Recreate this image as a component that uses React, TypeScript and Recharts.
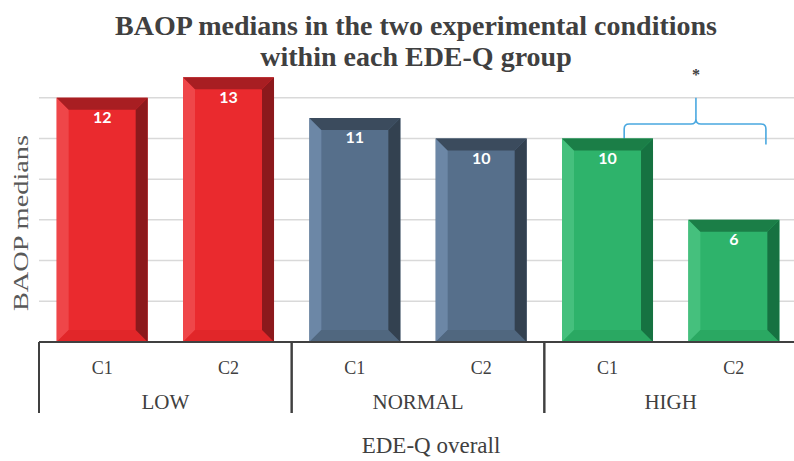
import React from 'react';
import {
  BarChart,
  Bar,
  XAxis,
  YAxis,
  CartesianGrid,
  LabelList,
  ReferenceArea,
} from 'recharts';

const groups = ['LOW', 'NORMAL', 'HIGH'];
const conditions = ['C1', 'C2'];
const medians = [12, 13, 11, 10, 10, 6];
const yTicks = [0, 2, 4, 6, 8, 10, 12];
const gridValues = [2, 4, 6, 8, 10, 12];

const rows = groups.flatMap((g, gi) =>
  conditions.map((c, ci) => ({
    id: `${g} ${c}`,
    group: g,
    cond: c,
    value: medians[gi * conditions.length + ci],
  }))
);

const W = 800;
const H = 461;
const M = { top: 57, right: 3, left: 39, bottom: 49 };
const groupW = (W - M.left - M.right) / groups.length;

const palette: Record<string, any> = {
  LOW: { base: '#EA2A2E', top: '#A81E22', right: '#8C191C', light: '#EF4649', bottom: '#E12629' },
  NORMAL: { base: '#566F8B', top: '#3B4B5D', right: '#334150', light: '#6C87A6', bottom: '#50677F' },
  HIGH: { base: '#2EB36B', top: '#1B7E47', right: '#167241', light: '#45C07D', bottom: '#2AA862' },
};

const serif = "'Liberation Serif', 'Times New Roman', serif";

const BevelBar = (props: any) => {
  const { x, y, width, height, payload } = props;
  const c = palette[payload.group];
  const b = Math.min(12, height / 2);
  return (
    <g>
      <rect x={x} y={y} width={width} height={height} fill={c.base} />
      <polygon
        points={`${x},${y} ${x + b},${y + b} ${x + b},${y + height - b} ${x},${y + height}`}
        fill={c.light}
      />
      <polygon
        points={`${x},${y + height} ${x + b},${y + height - b} ${x + width - b},${y + height - b} ${x + width},${y + height}`}
        fill={c.bottom}
      />
      <polygon
        points={`${x + width},${y} ${x + width},${y + height} ${x + width - b},${y + height - b} ${x + width - b},${y + b}`}
        fill={c.right}
      />
      <polygon
        points={`${x},${y} ${x + width},${y} ${x + width - b},${y + b} ${x + b},${y + b}`}
        fill={c.top}
      />
    </g>
  );
};

const CondTick = (props: any) => {
  const { x, y, payload } = props;
  const row = rows.find((r) => r.id === payload.value);
  return (
    <text x={x} y={y + 24} textAnchor="middle" fontFamily={serif} fontSize={18} fill="#404040">
      {row ? row.cond : ''}
    </text>
  );
};

const GroupTick = (props: any) => {
  const { x, y, payload } = props;
  const left = x - groupW / 2;
  return (
    <g>
      <line x1={left} y1={y - 42} x2={left} y2={y + 29} stroke="#404040" strokeWidth={2} />
      <line x1={left + groupW} y1={y - 42} x2={left + groupW} y2={y + 29} stroke="#404040" strokeWidth={2} />
      <text x={x} y={y + 25} textAnchor="middle" fontFamily={serif} fontSize={21} fill="#404040">
        {payload.value}
      </text>
    </g>
  );
};

const Bracket = (props: any) => {
  const { x, y, width, height } = props;
  const l = x + width * 0.316;
  const r = x + width * 0.877;
  const m = x + width * 0.6;
  const mid = y + height * 0.56;
  const bot = y + height;
  const k = 5;
  const d = `M${l},${bot} L${l},${mid + k} Q${l},${mid} ${l + k},${mid} L${m - k},${mid} Q${m},${mid} ${m},${mid - k} L${m},${y}
    M${m},${mid - k} Q${m},${mid} ${m + k},${mid} L${r - k},${mid} Q${r},${mid} ${r},${mid + k} L${r},${bot}`;
  return (
    <g>
      <path d={d} fill="none" stroke="#4AA8E0" strokeWidth={1.6} />
      <text x={m} y={y - 18} textAnchor="middle" fontFamily={serif} fontSize={16} fontWeight="bold" fill="#404040">
        *
      </text>
    </g>
  );
};

export default function App() {
  return (
    <div
      style={{
        position: 'absolute',
        left: 0,
        top: 0,
        width: 794,
        height: H,
        overflow: 'hidden',
        background: '#fff',
      }}
    >
      <div
        style={{
          position: 'absolute',
          left: 0,
          width: 832,
          top: 10,
          textAlign: 'center',
          fontFamily: serif,
          fontWeight: 'bold',
          fontSize: 28,
          lineHeight: '31px',
          color: '#404040',
        }}
      >
        BAOP medians in the two experimental conditions
        <br />
        within each EDE-Q group
      </div>
      <div
        style={{
          position: 'absolute',
          left: 21,
          top: 223,
          transform: 'translate(-50%, -50%) rotate(-90deg) scaleX(1.35)',
          whiteSpace: 'nowrap',
          fontFamily: serif,
          fontSize: 21,
          color: '#595959',
        }}
      >
        BAOP medians
      </div>
      <div
        style={{
          position: 'absolute',
          left: 431,
          top: 446,
          transform: 'translate(-50%, -50%)',
          whiteSpace: 'nowrap',
          fontFamily: serif,
          fontSize: 23,
          color: '#404040',
        }}
      >
        EDE-Q overall
      </div>
      <BarChart
        width={W}
        height={H}
        data={rows}
        margin={M}
        barCategoryGap="14%"
        style={{ position: 'absolute', left: 0, top: 0 }}
      >
        <CartesianGrid
          xAxisId="cond"
          vertical={false}
          horizontalValues={gridValues}
          stroke="#D9D9D9"
          strokeWidth={1.5}
        />
        <XAxis
          xAxisId="cond"
          dataKey="id"
          height={34}
          tickLine={false}
          axisLine={{ stroke: '#404040', strokeWidth: 2 }}
          tick={<CondTick />}
          interval={0}
        />
        <XAxis
          xAxisId="grp"
          dataKey="group"
          allowDuplicatedCategory={false}
          height={36}
          tickLine={false}
          axisLine={false}
          tick={<GroupTick />}
          interval={0}
        />
        <YAxis hide domain={[0, 14]} ticks={yTicks} />
        <ReferenceArea
          xAxisId="cond"
          x1="HIGH C1"
          x2="HIGH C2"
          y1={9.7}
          y2={12}
          ifOverflow="visible"
          shape={<Bracket />}
        />
        <Bar xAxisId="cond" dataKey="value" shape={<BevelBar />} isAnimationActive={false}>
          <LabelList
            dataKey="value"
            position="insideTop"
            offset={14}
            fill="#FFFFFF"
            fontFamily="Lato, 'Open Sans', sans-serif"
            fontWeight="bold"
            fontSize={16}
          />
        </Bar>
      </BarChart>
    </div>
  );
}
